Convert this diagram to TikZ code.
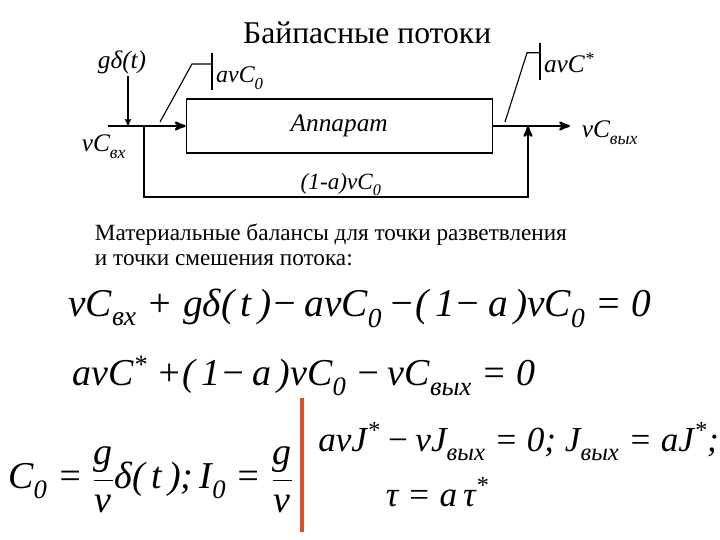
\documentclass[tikz,border=0pt]{standalone}
\usepackage{fontspec}
\setmainfont{Liberation Serif}[ItalicFont={Liberation Serif Italic}, BoldFont={Liberation Serif Bold}]
\usetikzlibrary{arrows}

\definecolor{barred}{RGB}{222,78,40}
\newcommand{\lowidx}[1]{\raisebox{-0.25ex}{\textsubscript{#1}}}
\newcommand{\upidx}[1]{\textsuperscript{#1}}
\newcommand{\gfrac}[2]{$\displaystyle\frac{\mbox{#1}}{\mbox{#2}}$}

\tikzset{
  flow/.style={line width=1.6pt},
  thinline/.style={line width=0.8pt},
  lbl/.style={font=\fontsize{18}{20}\selectfont\itshape, inner sep=1pt},
  eqn/.style={font=\fontsize{28}{34}\selectfont\itshape, inner sep=0pt, anchor=west},
}

\begin{document}
\begin{tikzpicture}
  \useasboundingbox (0,0) rectangle (18,13.5);

  % title
  \node[font=\fontsize{22.5}{26}\selectfont] (title) at (9.18,12.68) {Байпасные потоки};

  % apparatus and flow points
  \node[draw, thinline, minimum width=7.65cm, minimum height=1.35cm, lbl] (apparat) at (8.48,10.35) {Аппарат};
  \coordinate (inlet) at (2.7,10.35);
  \coordinate (inj) at (3.2,10.35);
  \coordinate (split) at (3.6,10.35);
  \coordinate (mix) at (13.2,10.35);
  \coordinate (outlet) at (14.25,10.35);

  % main stream
  \draw[flow, -stealth'] (inlet) -- (apparat.west);
  \draw[flow, -stealth'] (apparat.east) -- (outlet);
  \draw[flow, -stealth'] (split) -- ++(0,-1.775) -| (mix);% bypass

  % injection
  \node[lbl] (gdelta) at (3.05,11.93) {gδ(t)};
  \draw[thinline, -stealth'] (gdelta.south -| inj) -- (inj);

  % labels
  \node[lbl] (vcin) at (2.6,9.83) {vC\lowidx{вх}};
  \node[lbl] (vcout) at (15.25,10.18) {vC\lowidx{вых}};
  \node[lbl, font=\fontsize{16.5}{18}\selectfont\itshape] (bypass) at (8.53,8.88) {(1-a)vC\lowidx{0}};
  \node[lbl, font=\fontsize{17}{18}\selectfont\itshape] (avc0) at (6.0,11.55) {avC\lowidx{0}};
  \node[lbl] (avcstar) at (14.23,11.93) {avC\upidx{*}};

  % markers of the split flows
  \draw[thinline] (5.3,12.18) -- (5.3,11.25);
  \draw[thinline] (5.3,11.9) -- (4.8,11.9) -- (4.0,10.45);
  \draw[thinline] (13.5,12.43) -- (13.5,11.5);
  \draw[thinline] (13.5,12.18) -- (13.175,12.18) -- (12.625,10.45);

  % balances
  \node[anchor=west, align=left, font=\fontsize{16.5}{17.8}\selectfont] (text) at (2.25,7.38)
    {Материальные балансы для точки разветвления\\и точки смешения потока:};
  \node[eqn] (eqone) at (1.7,5.8)
    {vC\lowidx{вх} + gδ(\,t\,)−\,avC\lowidx{0}\,−(\,1−\,a\,)vC\lowidx{0} = 0};
  \node[eqn, font=\fontsize{27}{32}\selectfont\itshape] (eqtwo) at (1.8,4.1)
    {avC\upidx{*} +(\,1−\,a\,)vC\lowidx{0} −\,vC\lowidx{вых} = 0};
  \node[eqn, font=\fontsize{27}{32}\selectfont\itshape] (eqthree) at (0.2,1.5)
    {C\lowidx{0} = \gfrac{g}{v}δ(\,t\,);\,I\lowidx{0} = \gfrac{g}{v}};
  \draw[barred, line width=2.2pt] (7.55,3.55) -- (7.55,0.2);
  \node[eqn, font=\fontsize{25}{30}\selectfont\itshape] (eqfour) at (7.95,2.45)
    {avJ\upidx{*}\,−\,vJ\lowidx{вых} = 0; J\lowidx{вых} = aJ\upidx{*};};
  \node[eqn, font=\fontsize{25}{30}\selectfont\itshape, anchor=center] (eqfive) at (10.93,1.2)
    {τ = a\,τ\upidx{*}};
\end{tikzpicture}
\end{document}
